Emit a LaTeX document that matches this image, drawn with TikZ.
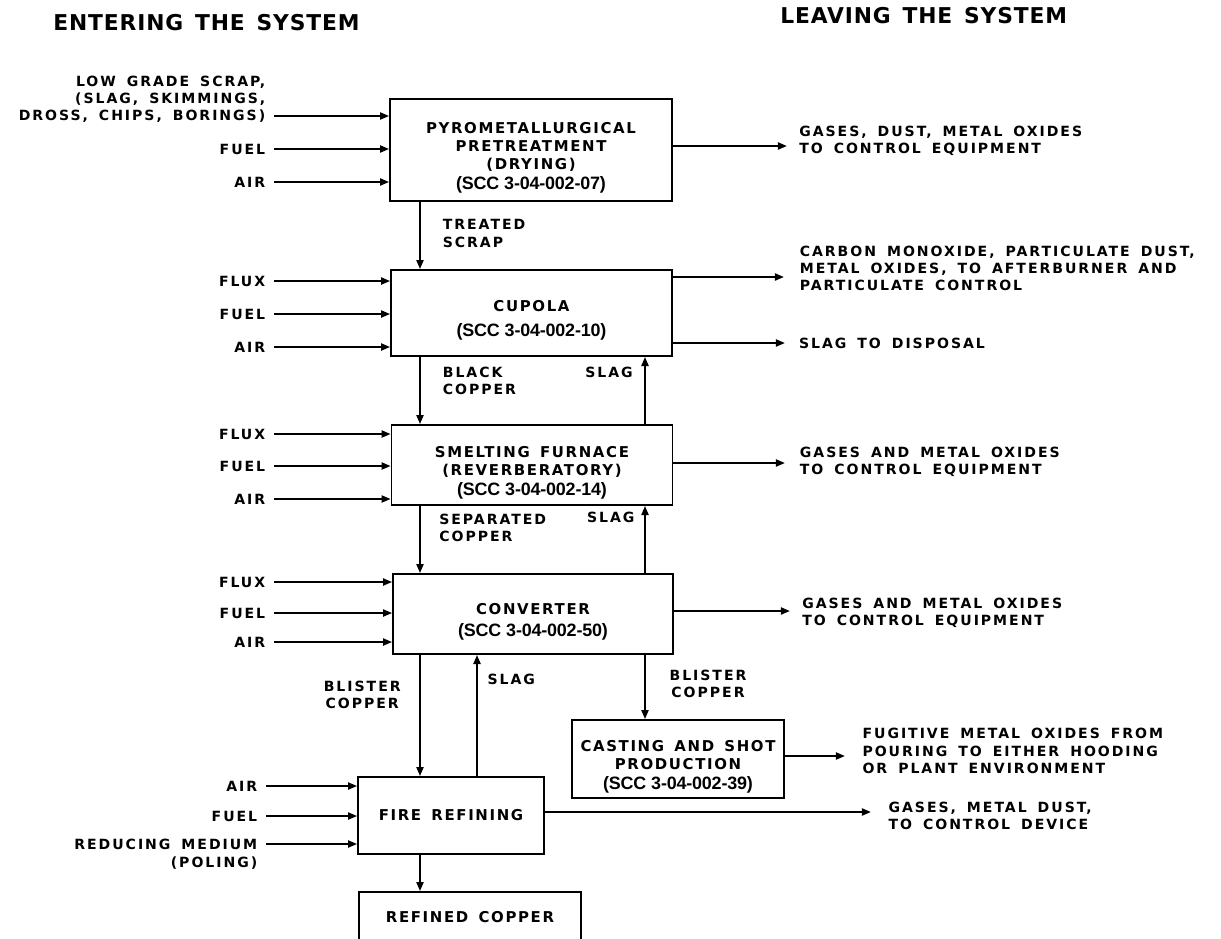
\documentclass[tikz,border=0pt]{standalone}
\usepackage{fontspec}
\usepackage{tikz}
\usetikzlibrary{arrows.meta, positioning}
\newfontfamily\labfont[LetterSpace=14, WordSpace=1.6]{DejaVu Sans}
\newfontfamily\boxfont[LetterSpace=11, WordSpace=1.5]{DejaVu Sans}
\newfontfamily\headfont[LetterSpace=4, WordSpace=1.4]{DejaVu Sans}
\newfontfamily\sccfont[LetterSpace=-1]{Liberation Sans}
% source classification code line in the process boxes
\newcommand{\sccnum}[1]{{\sccfont\bfseries\fontsize{10.2}{11}\selectfont(SCC #1)}}
% lowers the text block a little inside the tall boxes
\newcommand{\droptop}{\rule{0pt}{15pt}}

\begin{document}
\begin{tikzpicture}[
    x=0.02cm, y=-0.02cm,
    proc/.style={draw, line width=1pt, align=center, inner sep=0pt, font=\boxfont\bfseries\fontsize{8.5}{10.2}\selectfont},
    inlab/.style={anchor=east, align=right, inner sep=0pt, outer xsep=5pt, font=\labfont\bfseries\fontsize{8}{9.8}\selectfont},
    outlab/.style={inlab, anchor=west, align=left, outer xsep=0pt},
    flowlab/.style={outlab},
    head/.style={anchor=west, inner sep=0pt, font=\headfont\bfseries\fontsize{12.4}{14}\selectfont},
    arr/.style={-{Triangle[length=5.2pt, width=4pt]}, line width=1.15pt},
  ]
  \useasboundingbox (0,0) rectangle (1221,938);
  \clip (0,0) rectangle (1221,938);

  \node[head] (enter) at (53,23) {ENTERING THE SYSTEM};
  \node[head] (leave) at (780,16) {LEAVING THE SYSTEM};

  % process boxes
  \node[proc, minimum width=5.64cm, minimum height=2.04cm] (pre) at (531,150)
    {\droptop PYROMETALLURGICAL\\PRETREATMENT\\(DRYING)\\[1pt]\sccnum{3-04-002-07}};
  \node[proc, minimum width=5.62cm, minimum height=1.72cm] (cup) at (531.5,313)
    {\droptop CUPOLA\\[4pt]\sccnum{3-04-002-10}};
  \node[proc, minimum width=5.62cm, minimum height=1.6cm] (smelt) at (532,465)
    {\droptop SMELTING FURNACE\\(REVERBERATORY)\\[1.2pt]\sccnum{3-04-002-14}};
  \node[proc, minimum width=5.6cm, minimum height=1.6cm] (conv) at (533,614)
    {\droptop CONVERTER\\[2pt]\sccnum{3-04-002-50}};
  \node[proc, minimum width=4.24cm, minimum height=1.56cm] (cast) at (678,759)
    {\droptop CASTING AND SHOT\\PRODUCTION\\[1.2pt]\sccnum{3-04-002-39}};
  \node[proc, minimum width=3.72cm, minimum height=1.54cm] (fire) at (451,815.5) {FIRE REFINING};
  \node[proc, minimum width=4.44cm, minimum height=1cm] (refd) at (470,917) {REFINED COPPER};

  \coordinate (colL) at (420,0);
  \coordinate (colR) at (645,0);
  \coordinate (colS) at (477,0);

  % materials entering
  \node[inlab] (pscrap) at (274,116) {DROSS, CHIPS, BORINGS)};
  \node[inlab] (pscrapb) at (274,90.5) {LOW GRADE SCRAP,\\(SLAG, SKIMMINGS,};
  \node[inlab] (pfuel) at (274,149) {FUEL};
  \node[inlab] (pair) at (274,182) {AIR};
  \draw[arr] (pscrap) -- (pre.west |- pscrap);
  \draw[arr] (pfuel) -- (pre.west |- pfuel);
  \draw[arr] (pair) -- (pre.west |- pair);

  \node[inlab] (cflux) at (274,281) {FLUX};
  \node[inlab] (cfuel) at (274,314) {FUEL};
  \node[inlab] (cair) at (274,347) {AIR};
  \draw[arr] (cflux) -- (cup.west |- cflux);
  \draw[arr] (cfuel) -- (cup.west |- cfuel);
  \draw[arr] (cair) -- (cup.west |- cair);

  \node[inlab] (sflux) at (274,434) {FLUX};
  \node[inlab] (sfuel) at (274,466) {FUEL};
  \node[inlab] (sair) at (274,499) {AIR};
  \draw[arr] (sflux) -- (smelt.west |- sflux);
  \draw[arr] (sfuel) -- (smelt.west |- sfuel);
  \draw[arr] (sair) -- (smelt.west |- sair);

  \node[inlab] (vflux) at (274,582) {FLUX};
  \node[inlab] (vfuel) at (274,613) {FUEL};
  \node[inlab] (vair) at (274,642) {AIR};
  \draw[arr] (vflux) -- (conv.west |- vflux);
  \draw[arr] (vfuel) -- (conv.west |- vfuel);
  \draw[arr] (vair) -- (conv.west |- vair);

  \node[inlab] (fair) at (266,786) {AIR};
  \node[inlab] (ffuel) at (266,816) {FUEL};
  \node[inlab] (fred) at (266,844) {REDUCING MEDIUM};
  \node[inlab] (fpol) at (266,863) {(POLING)};
  \draw[arr] (fair) -- (fire.west |- fair);
  \draw[arr] (ffuel) -- (fire.west |- ffuel);
  \draw[arr] (fred) -- (fire.west |- fred);

  % materials leaving
  \coordinate (pgasT) at (787,146);
  \draw[arr] (pre.east |- pgasT) -- (pgasT);
  \node[outlab, right=7pt of pgasT, yshift=2.8pt] (pgas) {GASES, DUST, METAL OXIDES\\TO CONTROL EQUIPMENT};

  \coordinate (cgasT) at (784,277);
  \draw[arr] (cup.east |- cgasT) -- (cgasT);
  \node[outlab, right=9pt of cgasT, yshift=5pt] (cgas)
    {CARBON MONOXIDE, PARTICULATE DUST,\\METAL OXIDES, TO AFTERBURNER AND\\PARTICULATE CONTROL};
  \coordinate (cslagT) at (785,343);
  \draw[arr] (cup.east |- cslagT) -- (cslagT);
  \node[outlab, right=8pt of cslagT] (cslag) {SLAG TO DISPOSAL};

  \coordinate (sgasT) at (785,463);
  \draw[arr] (smelt.east |- sgasT) -- (sgasT);
  \node[outlab, right=8.5pt of sgasT, yshift=0.5pt] (sgas) {GASES AND METAL OXIDES\\TO CONTROL EQUIPMENT};

  \coordinate (vgasT) at (790,611);
  \draw[arr] (conv.east |- vgasT) -- (vgasT);
  \node[outlab, right=7pt of vgasT, yshift=-1pt] (vgas) {GASES AND METAL OXIDES\\TO CONTROL EQUIPMENT};

  \coordinate (kfugT) at (845,756);
  \draw[arr] (cast.east |- kfugT) -- (kfugT);
  \node[outlab, right=10pt of kfugT, yshift=2.8pt] (kfug)
    {FUGITIVE METAL OXIDES FROM\\POURING TO EITHER HOODING\\OR PLANT ENVIRONMENT};

  \coordinate (fgasT) at (871,812);
  \draw[arr] (fire.east |- fgasT) -- (fgasT);
  \node[outlab, right=10pt of fgasT, yshift=-2.3pt] (fgas) {GASES, METAL DUST,\\TO CONTROL DEVICE};

  % flows between the stages
  \draw[arr] (pre.south -| colL) -- node[flowlab, pos=0.47, right=13pt] {TREATED\\SCRAP} (cup.north -| colL);
  \draw[arr] (cup.south -| colL) -- node[flowlab, pos=0.36, right=13pt] {BLACK\\COPPER} (smelt.north -| colL);
  \draw[arr] (smelt.north -| colR) -- node[flowlab, pos=0.77, left=7pt] {SLAG} (cup.south -| colR);
  \draw[arr] (smelt.south -| colL) -- node[flowlab, pos=0.33, right=11pt] {SEPARATED\\COPPER} (conv.north -| colL);
  \draw[arr] (conv.north -| colR) -- node[flowlab, pos=0.83, left=6pt] {SLAG} (smelt.south -| colR);
  \draw[arr] (conv.south -| colL) -- node[flowlab, align=center, pos=0.33, left=11pt] {BLISTER\\COPPER} (fire.north -| colL);
  \draw[arr] (fire.north -| colS) -- node[flowlab, pos=0.8, right=6pt] {SLAG} (conv.south -| colS);
  \draw[arr] (conv.south -| colR) -- node[flowlab, align=center, pos=0.45, right=14pt] {BLISTER\\COPPER} (cast.north -| colR);
  \draw[arr] (fire.south -| colL) -- (refd.north -| colL);
\end{tikzpicture}
\end{document}
